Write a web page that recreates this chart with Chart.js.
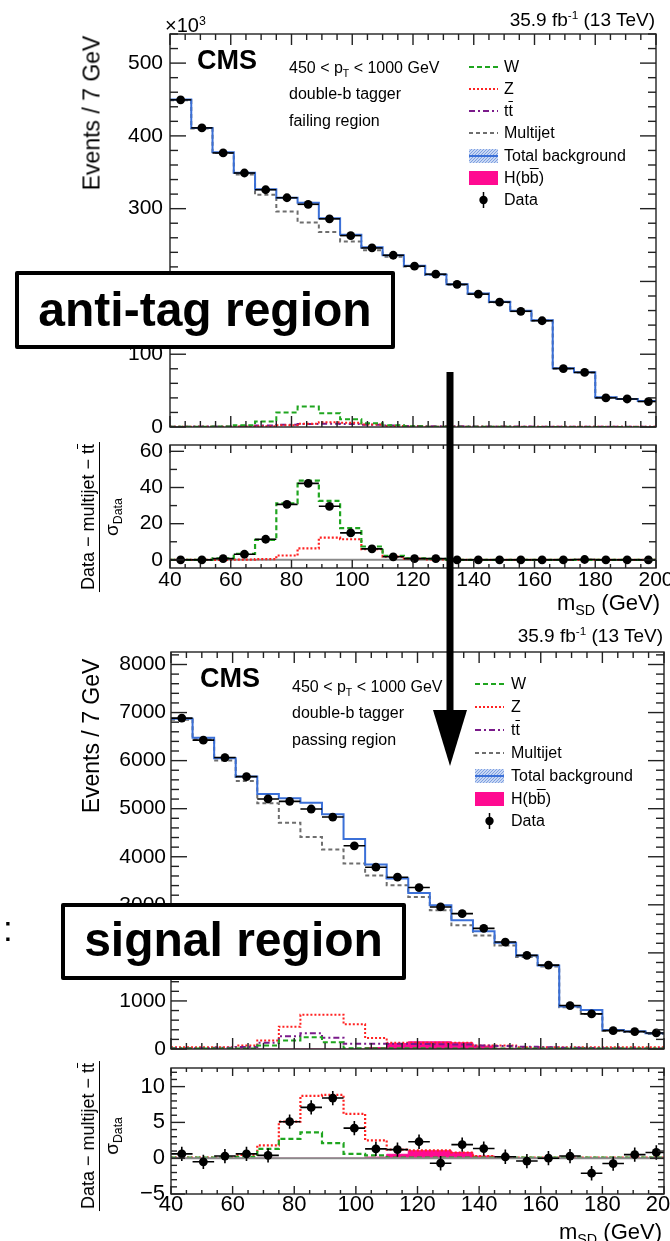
<!DOCTYPE html>
<html><head><meta charset="utf-8">
<script src="https://cdn.jsdelivr.net/npm/chart.js@4.4.1/dist/chart.umd.min.js"></script>
<style>
body{margin:0;background:#fff;}
#wrap{position:relative;width:670px;height:1241px;overflow:hidden;background:#fff;font-family:"Liberation Sans",Arial,Helvetica,sans-serif;color:#000;}
canvas{position:absolute;left:0;}
.t{position:absolute;white-space:nowrap;line-height:1;}
sup{font-size:0.62em;vertical-align:0;position:relative;top:-0.55em;line-height:0;}
sub{font-size:0.65em;vertical-align:0;position:relative;top:0.3em;line-height:0;}
.ov{text-decoration:overline;}
.rot{position:absolute;white-space:nowrap;transform:translate(-50%,-50%) rotate(-90deg);line-height:1;}
.frac{text-align:center;}
.frac .num{font-size:18px;padding:0 2px 2px 2px;border-bottom:1.5px solid #000;}
.frac .den{font-size:19px;padding-top:2px;}
.box{position:absolute;box-sizing:border-box;border:4px solid #000;border-radius:2px;background:#fff;}
svg{position:absolute;left:0;top:0;}
</style></head><body><div id="wrap">
<canvas id="cA" width="670" height="440" style="top:0px"></canvas>
<canvas id="cB" width="670" height="190" style="top:440px"></canvas>
<canvas id="cC" width="670" height="420" style="top:640px"></canvas>
<canvas id="cD" width="670" height="181" style="top:1060px"></canvas>
</div>
<script>
// ---------------- data ----------------
const binEdges = [40,47,54,61,68,75,82,89,96,103,110,117,124,131,138,145,152,159,166,173,180,187,194,201];
const binCenters = [43.5,50.5,57.5,64.5,71.5,78.5,85.5,92.5,99.5,106.5,113.5,120.5,127.5,134.5,141.5,148.5,155.5,162.5,169.5,176.5,183.5,190.5,197.5];
const xTickLabels = [40,60,80,100,120,140,160,180,200];
const failYTicks = [0,100,200,300,400,500];
const failRatioYTicks = [0,20,40,60];
const passYTicks = [0,1000,2000,3000,4000,5000,6000,7000,8000];
const passRatioYTicks = [-5,0,5,10];

// failing (anti-tag) region, events x 10^3
const failData     = [449.5,411,376.6,349,326,315,306,286,263,246,236,221,210,196,182.6,171.6,159,146,80.3,75,40,38.5,35];
const failTotal    = [450,411,377.5,349.5,326.6,315,308,286.7,264,247,236,221.5,209.6,196,183.5,172,159.6,146.8,80.7,75.2,40.8,38.5,35.8];
const failMultijet = [449,410,376.5,347,319,296,281,268,255,243,234,220.5,209,195.5,183,171.5,159.3,146.5,80.5,75,40.6,38.4,35.6];
const failW        = [0.2,0.3,0.6,2.5,7.5,20,28,19,10.5,5,2.5,1,0.5,0.3,0.2,0.2,0.1,0.1,0.1,0.1,0.1,0.1,0.1];
const failZ        = [0.3,0.3,0.4,0.6,1.2,2.5,4.5,6.5,6,3.5,1.5,0.7,0.4,0.3,0.3,0.2,0.2,0.2,0.2,0.2,0.2,0.2,0.2];
const failTT       = [0.5,0.6,0.8,1.2,2,3,4,4.5,4,3,2,1.5,1.2,1,0.8,0.7,0.6,0.5,0.4,0.3,0.3,0.2,0.2];
// failing region, (Data - multijet - ttbar)/sigma_Data
const failRatioData = [0,0,0.7,3.1,11.4,30.7,42.3,29.6,14.9,6.1,1.7,0.7,0.7,0,0,0,0,0,0,0.2,0,0,0];
const failRatioW    = [0,0,0.9,3.3,11,31.3,43.8,32.6,17.5,7.4,2.2,0.9,0.5,0,0,0,0,0,0,0,0,0,0];
const failRatioZ    = [0,0,0,0.1,0.4,2.4,6.4,12.3,11.4,5.9,1.8,0.7,0.2,0,0,0,0,0,0,0,0,0,0];

// passing (signal) region, events
const passData     = [6885,6426,6064,5668,5202,5153,4993,4826,4228,3783,3574,3359,2956,2816,2510,2225,1947,1745,904,730,382,362,334];
const passDataErr  = [83,80,78,75,72,72,71,69,65,62,60,58,54,53,50,47,44,42,30,27,20,19,18];
const passTotal    = [6870,6474,6050,5668,5306,5215,5125,4882,4367,3839,3547,3248,2990,2677,2448,2211,1947,1739,883,814,396,369,327];
const passMultijet = [6850,6446,6001,5577,5111,4708,4409,4152,3859,3609,3407,3164,2886,2573,2364,2156,1912,1718,869,730,382,355,313];
const passW        = [10,10,10,10,71,175,245,143,14,14,14,14,12,12,10,10,10,10,10,10,10,10,10];
const passZ        = [36,36,36,71,178,464,714,714,514,228,128,128,128,128,71,71,36,36,36,36,36,36,36];
const passTT       = [15,18,25,40,128,265,330,236,107,107,110,105,100,95,75,60,45,35,25,20,15,12,10];
const passH        = [0,0,0,0,0,0,0,0,0,30,115,150,150,130,60,15,0,0,0,0,0,0,0];
// passing region ratio
const passRatioData = [0.6,-0.5,0.3,0.6,0.4,5.1,7.1,8.4,4.2,1.3,1.2,2.3,-0.7,1.9,1.35,0.2,-0.4,0,0.3,-2.1,-0.75,0.5,0.8];
const passRatioZ    = [0.1,0.1,0.1,0.45,1.8,5.1,8.7,8.85,6.2,2.5,1.2,1.1,1.1,0.8,0.3,0.1,0.1,0.1,0.1,0.1,0.1,0.1,0.1];
const passRatioW    = [0.1,0.1,0.1,0.2,1.3,2.7,3.6,2.1,0.6,0.4,0.1,0.1,0.1,0.1,0.1,0.1,0.1,0.1,0.1,0.1,0.1,0.1,0.1];
const passRatioH    = [0,0,0,0,0,0,0,0,0,0.15,0.55,1.05,1.05,0.8,0.3,0,0,0,0,0,0,0,0];

// ---------------- styles ----------------
const FONT = "'Liberation Sans', Arial, Helvetica, sans-serif";
Chart.defaults.font.family = FONT;
Chart.defaults.color = '#000';
const cW='#1fa51f', cZ='#ff2222', cTT='#7a1a8a', cMJ='#6e6e6e', cTot='#3b70d8', cH='#ff0a91';

function histPoints(values){
  const pts = values.map((v,i)=>({x:binEdges[i], y:v}));
  pts.push({x:binEdges[values.length], y:values[values.length-1]});
  return pts;
}
function stepDS(values,color,dash,width,extra){
  return Object.assign({type:'line',data:histPoints(values),borderColor:color,borderDash:dash,borderWidth:width,
    stepped:'before',pointRadius:0,fill:false,tension:0,backgroundColor:color}, extra||{});
}
function fillDS(values,color){
  return stepDS(values,color,[],1,{fill:'origin',backgroundColor:color});
}
function zeroDS(){
  return {type:'line',data:[{x:40,y:0},{x:200,y:0}],borderColor:'#8a8a8a',borderWidth:2,pointRadius:0,fill:false};
}
function dataDS(values,errY){
  return {type:'scatter',data:values.map((v,i)=>({x:binCenters[i],y:v})),pointRadius:4.4,
    pointBackgroundColor:'#000',pointBorderColor:'#000',pointBorderWidth:0,errX:3.5,errY:errY};
}

const errorBars = {
  id:'errorBars',
  afterDatasetsDraw(chart){
    const {ctx, chartArea:a, scales:{x,y}} = chart;
    ctx.save();
    ctx.beginPath(); ctx.rect(a.left,a.top,a.right-a.left,a.bottom-a.top); ctx.clip();
    chart.data.datasets.forEach(ds=>{
      if(!ds.errX) return;
      ctx.strokeStyle='#000'; ctx.lineWidth=1.6;
      ds.data.forEach((p,i)=>{
        const px=x.getPixelForValue(p.x), py=y.getPixelForValue(p.y);
        ctx.beginPath();
        ctx.moveTo(x.getPixelForValue(p.x-ds.errX),py); ctx.lineTo(x.getPixelForValue(p.x+ds.errX),py);
        const e = ds.errY==null?0:(Array.isArray(ds.errY)?ds.errY[i]:ds.errY);
        if(e){ ctx.moveTo(px,y.getPixelForValue(p.y-e)); ctx.lineTo(px,y.getPixelForValue(p.y+e)); }
        ctx.stroke();
      });
    });
    ctx.restore();
  }
};
const frame = {
  id:'frame',
  afterDraw(chart,args,o){
    const {ctx, chartArea:a, scales:{x,y}} = chart;
    ctx.save();
    ctx.strokeStyle='#222'; ctx.lineWidth=1.4;
    const line=(x0,y0,x1,y1)=>{ctx.beginPath();ctx.moveTo(x0,y0);ctx.lineTo(x1,y1);ctx.stroke();};
    for(let v=x.min; v<=x.max+1e-9; v+=o.xMinor){
      const px=x.getPixelForValue(v);
      const maj=Math.abs(((v-x.min)%o.xMajor+o.xMajor)%o.xMajor)<1e-6;
      const L=maj?o.xMajLen:o.xMinLen;
      line(px,a.bottom,px,a.bottom-L); line(px,a.top,px,a.top+L);
    }
    const y0=Math.ceil(y.min/o.yMinor-1e-9)*o.yMinor;
    for(let v=y0; v<=y.max+1e-9; v+=o.yMinor){
      const py=y.getPixelForValue(v);
      const r=((v%o.yMajor)+o.yMajor)%o.yMajor;
      const maj=r<1e-6||Math.abs(r-o.yMajor)<1e-6;
      const L=maj?o.yMajLen:o.yMinLen;
      line(a.left,py,a.left+L,py); line(a.right,py,a.right-L,py);
    }
    ctx.strokeRect(a.left,a.top,a.right-a.left,a.bottom-a.top);
    ctx.restore();
  }
};

function makeChart(id, cfg){
  const fmt = v=>String(v).replace('-','\u2212');
  const xScale = {type:'linear',min:40,max:200,display:cfg.xLabels,
    afterBuildTicks:s=>{s.ticks=xTickLabels.map(v=>({value:v}));},
    afterFit:s=>{ if(cfg.xLabels){s.height=cfg.xHeight;} s.paddingLeft=0; s.paddingRight=0; },
    grid:{display:false,drawTicks:false}, border:{display:false},
    ticks:{autoSkip:false,maxRotation:0,padding:cfg.xPad||0,font:{size:cfg.xFont||21,lineHeight:1},color:'#000',callback:v=>fmt(v)}};
  const yScale = {type:'linear',min:cfg.yMin,max:cfg.yMax,
    afterBuildTicks:s=>{s.ticks=cfg.yTicks.map(v=>({value:v}));},
    afterFit:s=>{s.width=cfg.yWidth; s.paddingTop=0; s.paddingBottom=0;},
    grid:{display:false,drawTicks:false}, border:{display:false},
    ticks:{padding:cfg.yPad,font:{size:cfg.yFont||21,lineHeight:1},color:'#000',callback:v=>fmt(v)}};
  return new Chart(document.getElementById(id),{
    data:{datasets:cfg.datasets},
    options:{responsive:false,animation:false,devicePixelRatio:1,
      layout:{padding:cfg.padding},
      scales:{x:xScale,y:yScale},
      plugins:{legend:{display:false},tooltip:{enabled:false},frame:cfg.frame},
      events:[]},
    plugins:[errorBars,frame]
  });
}

// top main: anti-tag (failing) region
makeChart('cA',{
  datasets:[dataDS(failData,null), stepDS(failTotal,cTot,[],2), stepDS(failW,cW,[5,3],2),
    stepDS(failZ,cZ,[2,2],2), stepDS(failTT,cTT,[6,3,2,3],2), stepDS(failMultijet,cMJ,[4,3],2)],
  yMin:0,yMax:540,yTicks:failYTicks,yWidth:170,yPad:7,xLabels:false,
  padding:{left:0,right:14,top:34,bottom:13},
  frame:{xMinor:5,xMajor:20,xMajLen:11,xMinLen:6,yMinor:20,yMajor:100,yMajLen:16,yMinLen:8}
});
// top ratio
makeChart('cB',{
  datasets:[dataDS(failRatioData,1), stepDS(failRatioW,cW,[5,3],2.2), stepDS(failRatioZ,cZ,[2,2],2.2), zeroDS()],
  yMin:-4.5,yMax:63.5,yTicks:failRatioYTicks,yWidth:170,yPad:7,xLabels:true,xHeight:62,xPad:2,
  padding:{left:0,right:14,top:5,bottom:0},
  frame:{xMinor:5,xMajor:20,xMajLen:8,xMinLen:4,yMinor:10,yMajor:20,yMajLen:14,yMinLen:7}
});
// bottom main: signal (passing) region
makeChart('cC',{
  datasets:[dataDS(passData,passDataErr), stepDS(passTotal,cTot,[],2), stepDS(passMultijet,cMJ,[4,3],2),
    stepDS(passW,cW,[5,3],2), stepDS(passTT,cTT,[6,3,2,3],2), stepDS(passZ,cZ,[2,2],2), fillDS(passH,cH)],
  yMin:0,yMax:8260,yTicks:passYTicks,yWidth:171,yPad:5,xLabels:false,
  padding:{left:0,right:6,top:12,bottom:11},
  frame:{xMinor:5,xMajor:20,xMajLen:11,xMinLen:6,yMinor:200,yMajor:1000,yMajLen:16,yMinLen:8}
});
// bottom ratio
makeChart('cD',{
  datasets:[dataDS(passRatioData,1), zeroDS(), stepDS(passRatioW,cW,[5,3],2.2), stepDS(passRatioZ,cZ,[2,2],2.2), fillDS(passRatioH,cH)],
  yMin:-5,yMax:12.6,yTicks:passRatioYTicks,yWidth:171,yPad:6,xLabels:true,xHeight:47,xPad:0,xFont:22,yFont:22,
  padding:{left:0,right:6,top:8,bottom:0},
  frame:{xMinor:5,xMajor:20,xMajLen:8,xMinLen:4,yMinor:1,yMajor:5,yMajLen:14,yMinLen:6}
});

// ---------------- annotations ----------------
const wrap=document.getElementById('wrap');
function T(html,x,base,size,o){
  o=o||{};
  const d=document.createElement('div'); d.className='t'; d.innerHTML=html;
  d.style.fontSize=size+'px'; d.style.top=(base-0.85*size)+'px';
  if(o.bold) d.style.fontWeight='bold';
  if(o.align==='right') d.style.right=(670-x)+'px'; else d.style.left=x+'px';
  wrap.appendChild(d); return d;
}
function R(html,cx,cy,size){
  const d=document.createElement('div'); d.className='rot'; d.innerHTML=html;
  d.style.left=cx+'px'; d.style.top=cy+'px'; if(size) d.style.fontSize=size+'px';
  wrap.appendChild(d); return d;
}
const ratioTitle='<div class="frac"><div class="num">Data \u2212 multijet \u2212 t<span class="ov">t</span></div><div class="den">\u03c3<sub>Data</sub></div></div>';

// top
T('\u00d710<sup>3</sup>',165,32,20);
T('35.9 fb<sup>-1</sup> (13 TeV)',655,26,19,{align:'right'});
T('CMS',197,70,27,{bold:true});
T('450 &lt; p<sub>T</sub> &lt; 1000 GeV',289,74,16);
T('double-b tagger',289,100,16);
T('failing region',289,127,16);
R('Events / 7 GeV',92,113,23);
R(ratioTitle,100,517);
T('m<sub>SD</sub> (GeV)',660,611,22,{align:'right'});
// bottom
T('35.9 fb<sup>-1</sup> (13 TeV)',663,642,19,{align:'right'});
T('CMS',200,688,27,{bold:true});
T('450 &lt; p<sub>T</sub> &lt; 1000 GeV',292,693,16);
T('double-b tagger',292,719,16);
T('passing region',292,746,16);
R('Events / 7 GeV',91,736,23);
R(ratioTitle,100,1136);
T('m<sub>SD</sub> (GeV)',662,1240,22,{align:'right'});

// legends (svg samples + text)
const NS='http://www.w3.org/2000/svg';
const svg=document.createElementNS(NS,'svg'); svg.setAttribute('width','670'); svg.setAttribute('height','1241');
svg.innerHTML='<defs><pattern id="hatch" width="3" height="3" patternUnits="userSpaceOnUse"><rect width="3" height="3" fill="#c9d8f4"/><path d="M0 3 L3 0" stroke="#7fa0e0" stroke-width="1"/></pattern></defs>';
wrap.appendChild(svg);
function S(tag,attrs){const e=document.createElementNS(NS,tag);for(const k in attrs)e.setAttribute(k,attrs[k]);svg.appendChild(e);return e;}
const legendItems=[
  {label:'W',kind:'line',color:cW,dash:'5 3'},
  {label:'Z',kind:'line',color:cZ,dash:'2 2'},
  {label:'t<span class="ov">t</span>',kind:'line',color:cTT,dash:'6 3 2 3'},
  {label:'Multijet',kind:'line',color:cMJ,dash:'4 3'},
  {label:'Total background',kind:'band',color:cTot},
  {label:'H(b<span class="ov">b</span>)',kind:'fill',color:cH},
  {label:'Data',kind:'data'}
];
function legend(x0,x1,rows,tx){
  legendItems.forEach((it,i)=>{
    const yc=rows[i];
    if(it.kind==='line') S('line',{x1:x0,y1:yc,x2:x1,y2:yc,stroke:it.color,'stroke-width':2,'stroke-dasharray':it.dash});
    else if(it.kind==='band'){ S('rect',{x:x0,y:yc-7,width:x1-x0,height:14,fill:'url(#hatch)'}); S('line',{x1:x0,y1:yc,x2:x1,y2:yc,stroke:it.color,'stroke-width':2}); }
    else if(it.kind==='fill') S('rect',{x:x0,y:yc-7,width:x1-x0,height:14,fill:it.color});
    else { const xm=(x0+x1)/2; S('line',{x1:xm,y1:yc-8,x2:xm,y2:yc+8,stroke:'#000','stroke-width':1.5}); S('circle',{cx:xm,cy:yc,r:4.2,fill:'#000'}); }
    T(it.label,tx,yc+6,16);
  });
}
legend(469,498,[67,89,111,133,156,178,200],504);
legend(475,504,[684,707,730,753,776,799,821],511);

// overlay: arrow, boxes, colon
S('rect',{x:446.5,y:372,width:7,height:342,fill:'#000'});
S('polygon',{points:'433,710 467,710 450,766',fill:'#000'});
function box(l,t,w,h,text,base){
  const b=document.createElement('div'); b.className='box';
  b.style.left=l+'px'; b.style.top=t+'px'; b.style.width=w+'px'; b.style.height=h+'px';
  wrap.appendChild(b);
  const d=T(text,l+w/2,base,48,{bold:true}); d.style.transform='translateX(-50%)';
}
box(15,271,380,78,'anti-tag region',327);
box(61,903,345,77,'signal region',957);
T(':',3,941,35);
</script>
</body></html>
